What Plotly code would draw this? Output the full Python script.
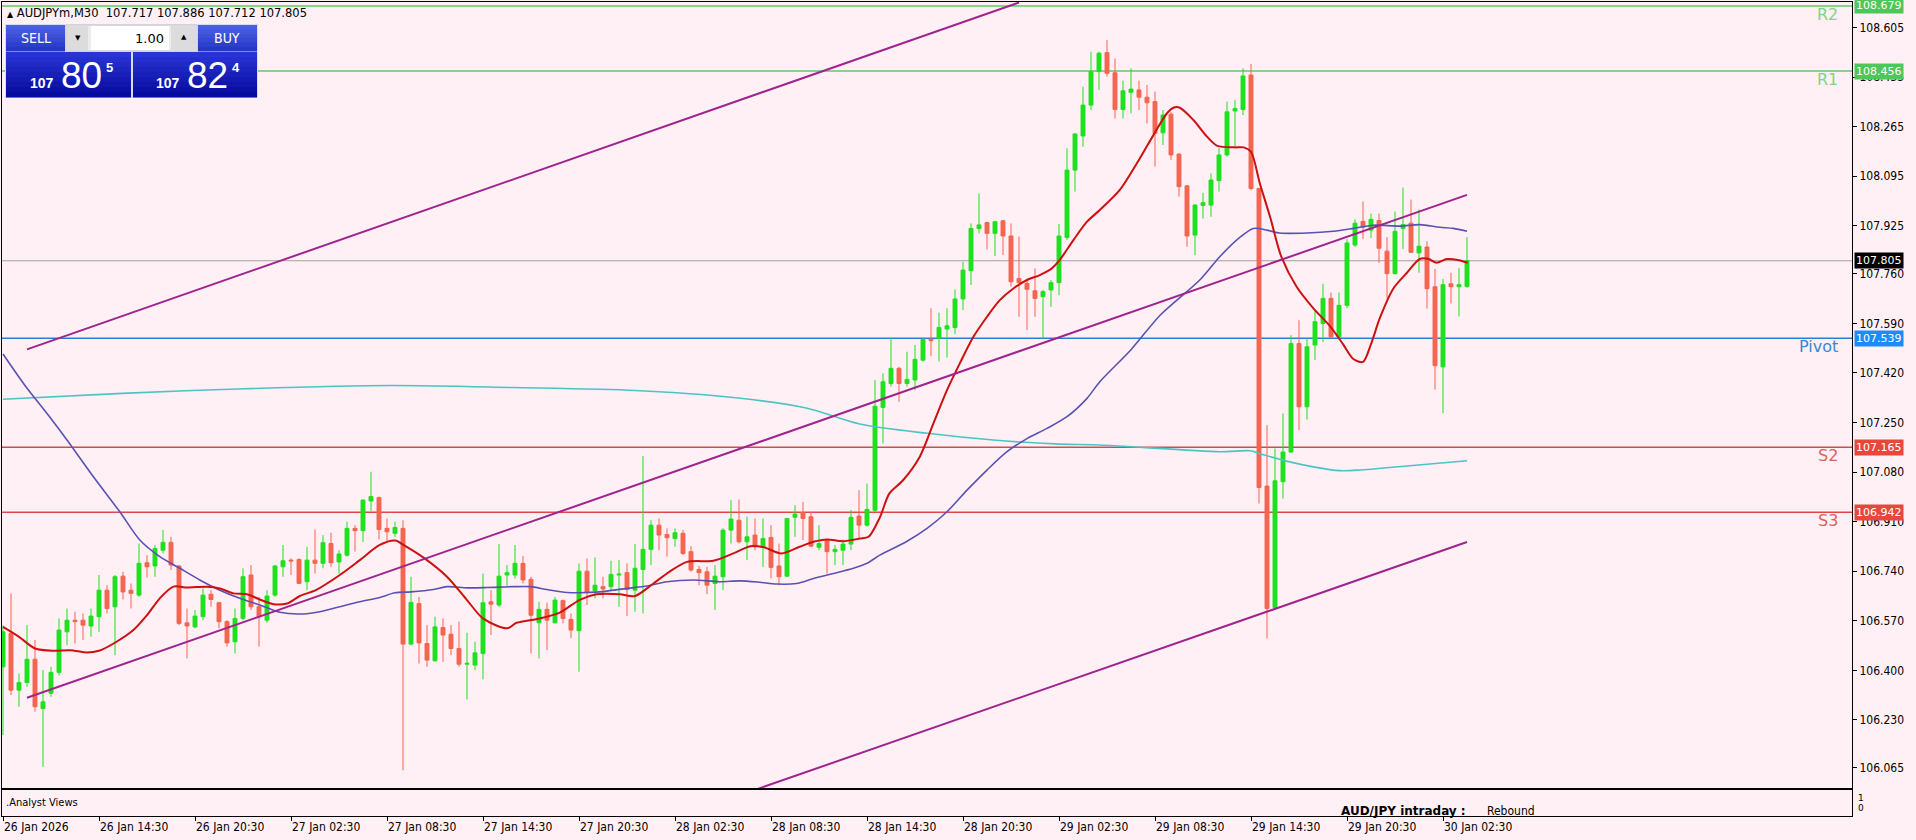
import plotly.graph_objects as go

# ---------------- data ----------------
symbol = "AUDJPYm,M30"
header_ohlc = [107.717, 107.886, 107.712, 107.805]
bid = 107.805
ask = 107.824
lot = "1.00"

open_ = [106.412,106.526,106.332,106.358,106.438,106.269,106.321,106.393,106.532,106.572,
106.572,106.552,106.584,106.675,106.618,106.723,106.675,106.658,106.769,106.758,
106.812,106.839,106.758,106.563,106.549,106.584,106.661,106.632,106.567,106.498,
106.578,106.727,106.618,106.572,106.658,106.755,106.778,106.780,106.704,106.778,
106.767,106.835,106.772,106.795,106.887,106.879,106.981,106.993,106.887,106.870,
106.887,106.490,106.629,106.492,106.433,106.547,106.524,106.475,106.421,106.418,
106.458,106.635,106.624,106.727,106.727,106.767,106.712,106.563,106.609,106.563,
106.639,106.575,106.536,106.740,106.673,106.687,106.687,106.727,106.735,106.675,
106.746,106.815,106.898,106.866,106.852,106.870,106.807,106.746,106.738,106.698,
106.721,106.881,106.915,106.841,106.864,106.822,106.856,106.758,106.723,106.925,
106.941,106.927,106.822,106.845,106.807,106.812,106.833,106.929,106.898,106.949,
107.302,107.384,107.436,107.384,107.396,107.464,107.536,107.539,107.571,107.576,
107.674,107.771,107.916,107.936,107.899,107.942,107.890,107.744,107.727,107.702,
107.682,107.705,107.730,107.885,108.116,108.233,108.339,108.454,108.519,108.450,
108.324,108.383,108.391,108.366,108.351,108.244,108.308,108.171,108.062,107.893,
107.995,107.996,108.080,108.168,108.319,108.324,108.442,108.053,107.032,106.615,
107.047,107.149,107.521,107.304,107.516,107.590,107.676,107.544,107.652,107.859,
107.940,107.910,107.943,107.838,107.761,107.916,107.934,107.832,107.852,107.716,
107.441,107.726,107.716,107.717]

high = [106.555,106.664,106.389,106.555,106.504,106.401,106.412,106.578,106.612,106.601,
106.595,106.612,106.727,106.692,106.727,106.738,106.698,106.835,106.795,106.830,
106.881,106.858,106.761,106.612,106.607,106.681,106.675,106.635,106.572,106.612,
106.750,106.761,106.652,106.675,106.761,106.830,106.784,106.784,106.824,106.883,
106.864,106.872,106.812,106.910,106.898,106.986,107.081,106.996,106.921,106.910,
106.915,106.721,106.652,106.555,106.584,106.578,106.555,106.567,106.529,106.498,
106.732,106.675,106.833,106.761,106.830,106.792,106.721,106.635,106.632,106.652,
106.643,106.595,106.767,106.784,106.787,106.721,106.776,106.778,106.767,106.833,
107.135,106.915,106.921,106.887,106.887,106.881,106.826,106.758,106.755,106.761,
106.887,106.984,106.986,106.927,106.921,106.921,106.898,106.835,106.923,106.967,
106.978,106.944,106.898,106.847,106.830,106.849,106.950,107.018,107.041,107.396,
107.419,107.539,107.441,107.493,107.516,107.539,107.642,107.627,107.642,107.707,
107.802,107.933,108.036,107.939,107.942,107.945,107.933,107.888,107.744,107.779,
107.705,107.739,107.931,108.191,108.242,108.402,108.522,108.522,108.562,108.499,
108.423,108.465,108.423,108.408,108.385,108.322,108.316,108.173,108.065,107.999,
108.038,108.105,108.191,108.351,108.356,108.465,108.480,108.056,107.241,107.161,
107.281,107.550,107.601,107.538,107.636,107.726,107.696,107.696,107.879,107.947,
108.008,107.967,107.967,107.886,107.974,108.056,108.015,107.981,107.872,107.777,
107.743,107.764,107.780,107.886]

low = [106.178,106.315,106.275,106.343,106.258,106.069,106.309,106.383,106.486,106.492,
106.504,106.515,106.532,106.595,106.452,106.643,106.612,106.652,106.719,106.721,
106.801,106.744,106.555,106.441,106.544,106.572,106.618,106.544,106.481,106.458,
106.572,106.607,106.481,106.563,106.652,106.721,106.727,106.696,106.675,106.732,
106.750,106.755,106.732,106.790,106.807,106.841,106.947,106.849,106.841,106.858,
106.057,106.486,106.423,106.412,106.429,106.429,106.452,106.412,106.300,106.401,
106.369,106.521,106.618,106.687,106.715,106.698,106.458,106.441,106.469,106.561,
106.561,106.510,106.395,106.624,106.647,106.647,106.675,106.618,106.586,106.601,
106.595,106.761,106.812,106.790,106.824,106.795,106.738,106.692,106.661,106.607,
106.675,106.835,106.835,106.778,106.812,106.755,106.715,106.692,106.721,106.858,
106.847,106.824,106.812,106.732,106.761,106.761,106.812,106.856,106.893,106.944,
107.178,107.373,107.321,107.373,107.361,107.459,107.478,107.459,107.473,107.553,
107.636,107.722,107.899,107.844,107.821,107.825,107.716,107.613,107.567,107.613,
107.539,107.647,107.687,107.876,108.042,108.196,108.322,108.391,108.437,108.293,
108.293,108.311,108.322,108.276,108.128,108.202,108.151,108.025,107.853,107.824,
107.950,107.956,108.042,108.162,108.196,108.305,108.047,106.972,106.509,106.612,
106.989,107.146,107.224,107.260,107.464,107.526,107.540,107.540,107.642,107.852,
107.879,107.883,107.798,107.676,107.757,107.845,107.832,107.764,107.641,107.363,
107.282,107.658,107.614,107.712]

close = [106.532,106.332,106.358,106.438,106.275,106.292,106.393,106.538,106.572,106.567,
106.555,106.586,106.675,106.612,106.721,106.669,106.664,106.767,106.755,106.818,
106.839,106.761,106.561,106.552,106.586,106.658,106.643,106.567,106.494,106.578,
106.721,106.618,106.584,106.655,106.758,106.776,106.775,106.698,106.778,106.767,
106.838,106.769,106.799,106.887,106.879,106.984,106.996,106.883,106.875,106.890,
106.490,106.633,106.494,106.435,106.549,106.521,106.475,106.421,106.424,106.460,
106.632,106.627,106.723,106.735,106.767,106.710,106.589,106.609,106.572,106.641,
106.578,106.538,106.740,106.669,106.692,106.679,106.729,106.730,106.677,106.750,
106.815,106.898,106.864,106.855,106.872,106.801,106.744,106.735,106.692,106.723,
106.881,106.919,106.841,106.858,106.824,106.852,106.753,106.721,106.921,106.936,
106.921,106.826,106.835,106.807,106.815,106.833,106.925,106.898,106.952,107.306,
107.390,107.436,107.384,107.398,107.467,107.535,107.531,107.576,107.582,107.674,
107.773,107.916,107.928,107.899,107.939,107.890,107.733,107.730,107.707,107.676,
107.699,107.730,107.890,108.116,108.240,108.339,108.454,108.517,108.448,108.324,
108.388,108.394,108.366,108.347,108.242,108.305,108.168,108.059,107.890,107.996,
108.004,108.082,108.168,108.316,108.327,108.439,108.053,107.027,106.612,107.050,
107.149,107.521,107.304,107.510,107.596,107.676,107.544,107.652,107.866,107.934,
107.920,107.947,107.848,107.761,107.906,107.929,107.834,107.855,107.709,107.445,
107.723,107.716,107.723,107.805]

bar_index = list(range(len(close)))

# moving averages (bar position, price)
ma_fast_x = [0,2,4,6.3,8.4,10.5,12,14.2,16.3,18,19.6,21.3,23,25.5,27.1,28.8,30.5,32.1,33.8,35.5,
             37.1,39.1,42.1,44.6,47.1,49,50.3,52.7,55.5,58,60,63,64.2,67.1,69.6,72.1,74.2,77.1,79,
             81.3,83.3,85.5,88.8,91.3,93.4,95.1,97.3,99.6,101.3,103,105,107.1,108.2,109.6,110.8,
             112.5,114.6,116.3,118,119.6,121.3,123,124.6,126.3,128,129.6,131.1,132.1,133.8,135.5,
             137.1,139.6,142.1,143.8,145.5,146.3,147.1,148.8,150.5,151.8,153.9,155.1,156,157.1,
             158.4,159.8,161.7,163.8,165.9,167.5,168.8,170,171,172.1,173.8,175.5,177.1,178.2,
             179.2,180.5,182,183.1]
ma_fast_y = [106.549,106.515,106.475,106.467,106.469,106.461,106.467,106.498,106.538,106.589,106.647,
             106.687,106.684,106.687,106.681,106.664,106.661,106.643,106.627,106.629,106.655,106.675,
             106.727,106.778,106.830,106.845,106.826,106.784,106.721,106.641,106.578,106.544,106.563,
             106.578,106.598,106.642,106.661,106.661,106.655,106.698,106.738,106.772,106.776,106.801,
             106.826,106.822,106.801,106.824,106.841,106.849,106.843,106.852,106.858,106.924,107.007,
             107.052,107.133,107.247,107.361,107.453,107.544,107.613,107.670,107.710,107.739,107.756,
             107.779,107.808,107.876,107.939,107.979,108.048,108.156,108.236,108.311,108.330,108.330,
             108.288,108.231,108.199,108.194,108.194,108.179,108.071,107.954,107.818,107.716,107.642,
             107.580,107.519,107.468,107.458,107.519,107.608,107.710,107.764,107.811,107.811,107.798,
             107.811,107.807,107.798]

ma_mid_x = [0,2.7,5.7,8,11.3,14.6,17.1,19.6,22.1,24.6,27.1,29.6,32.1,34.6,37.1,39.6,42.1,44.6,47.1,
            49,51,53.8,55.5,58,60.5,63.8,65.9,68,70.5,72.1,74.6,78,80.5,83,86.3,89.6,92.1,94.6,96.7,
            99.2,101.3,103.8,106.3,108,109.6,112.9,115.5,118,120.5,123,125.5,128,130.5,133,135.5,
            137.1,141,144.7,149.6,152.1,154.6,156.3,158,159.6,163,166.3,168.8,171.3,174.6,177.1,
            179.6,181.3,183]
ma_mid_y = [107.485,107.379,107.274,107.190,107.064,106.944,106.847,106.790,106.750,106.710,106.675,
            106.647,106.624,106.599,106.593,106.601,106.618,106.635,106.650,106.666,106.669,106.677,
            106.687,106.683,106.684,106.687,106.687,106.677,106.667,106.666,106.669,106.681,106.689,
            106.704,106.710,106.704,106.707,106.702,106.696,106.698,106.715,106.732,106.750,106.767,
            106.795,106.841,106.887,106.944,107.018,107.087,107.150,107.195,107.230,107.270,107.333,
            107.390,107.500,107.620,107.739,107.819,107.885,107.916,107.910,107.900,107.900,107.906,
            107.916,107.927,107.924,107.929,107.920,107.916,107.906]

ma_slow_x = [0,14.9,30.2,48.5,63.8,79,91.3,100.4,107.1,115.5,123.8,132.1,137.1,152.1,155.9,157.1,
             160.7,163.8,167.1,169.6,175.5,183]
ma_slow_y = [107.330,107.350,107.366,107.377,107.370,107.360,107.336,107.300,107.245,107.213,107.190,
             107.176,107.173,107.150,107.153,107.143,107.116,107.098,107.085,107.087,107.101,107.119]

# channel trend lines (bar position, price)
chan_upper_x, chan_upper_y = [3, 127], [107.501, 108.691]
chan_mid_x, chan_mid_y = [3, 183], [106.306, 108.031]
chan_low_x, chan_low_y = [94, 183], [105.990, 106.840]

# pivot levels
level_names = ["R2", "R1", "Pivot", "S2", "S3"]
level_values = [108.679, 108.456, 107.539, 107.165, 106.942]

price_ticks = [108.605, 108.435, 108.265, 108.095, 107.925, 107.760, 107.590, 107.420,
               107.250, 107.080, 106.910, 106.740, 106.570, 106.400, 106.230, 106.065]
time_tick_index = [0, 12, 24, 36, 48, 60, 72, 84, 96, 108, 120, 132, 144, 156, 168, 180]
time_tick_labels = ["26 Jan 2026", "26 Jan 14:30", "26 Jan 20:30", "27 Jan 02:30", "27 Jan 08:30",
                    "27 Jan 14:30", "27 Jan 20:30", "28 Jan 02:30", "28 Jan 08:30", "28 Jan 14:30",
                    "28 Jan 20:30", "29 Jan 02:30", "29 Jan 08:30", "29 Jan 14:30", "29 Jan 20:30",
                    "30 Jan 02:30"]

panel_title = ".Analyst Views"
view_label = "AUD/JPY intraday :"
view_value = "Rebound"

# ---------------- styling ----------------
BG = "#FFF0F5"
BULL = "#1EE01E"
BEAR = "#F2654F"
COND = "DejaVu Sans Condensed, Liberation Sans Narrow, DejaVu Sans"
level_line_colors = ["#62C962", "#62C962", "#2A7FD4", "#C9504C", "#E04848"]
level_text_colors = ["#84D284", "#84D284", "#3A86D0", "#D8625E", "#D8625E"]
level_badge_colors = ["#4DC65A", "#4DC65A", "#1A8CFF", "#E8473D", "#E8473D"]

W, H = 1916, 840
ML, MR, MT, MB = 2, 64, 2, 24
PW, PH = W - ML - MR, H - MT - MB


def fx(px):
    return (px - ML) / PW


def fy(py):
    return 1 - (py - MT) / PH


fig = go.Figure()

fig.add_trace(go.Candlestick(
    x=bar_index, open=open_, high=high, low=low, close=close,
    increasing=dict(line=dict(color=BULL, width=1), fillcolor=BULL),
    decreasing=dict(line=dict(color=BEAR, width=1), fillcolor=BEAR),
    showlegend=False, hoverinfo="skip", xaxis="x", yaxis="y"))

fig.add_trace(go.Scatter(x=ma_slow_x, y=ma_slow_y, mode="lines",
                         line=dict(color="#4CC4C4", width=1.6, shape="spline", smoothing=0.8),
                         hoverinfo="skip", showlegend=False))
fig.add_trace(go.Scatter(x=ma_mid_x, y=ma_mid_y, mode="lines",
                         line=dict(color="#5A52B2", width=1.6, shape="spline", smoothing=0.8),
                         hoverinfo="skip", showlegend=False))
fig.add_trace(go.Scatter(x=ma_fast_x, y=ma_fast_y, mode="lines",
                         line=dict(color="#CC1111", width=2, shape="spline", smoothing=0.8),
                         hoverinfo="skip", showlegend=False))
for cx, cy in [(chan_upper_x, chan_upper_y), (chan_mid_x, chan_mid_y), (chan_low_x, chan_low_y)]:
    fig.add_trace(go.Scatter(x=cx, y=cy, mode="lines", line=dict(color="#A0248F", width=2),
                             hoverinfo="skip", showlegend=False))

# dummy trace for the lower panel
fig.add_trace(go.Scatter(x=[0], y=[0.5], mode="markers", marker=dict(opacity=0),
                         xaxis="x2", yaxis="y2", hoverinfo="skip", showlegend=False))

shapes = []
annotations = []


def note(x, y, text, size, color="black", family="DejaVu Sans", xa="center", ya="middle",
         weight="normal", **kw):
    annotations.append(dict(xref="paper", yref="paper", x=fx(x), y=fy(y), xanchor=xa, yanchor=ya,
                            text=text, showarrow=False,
                            font=dict(family=family, size=size, color=color, weight=weight), **kw))


for name, val, lc, tc, bc in zip(level_names, level_values, level_line_colors,
                                 level_text_colors, level_badge_colors):
    shapes.append(dict(type="line", xref="paper", x0=0, x1=1, yref="y", y0=val, y1=val,
                       line=dict(color=lc, width=1.5), layer="below"))
    annotations.append(dict(xref="paper", x=fx(1840), xanchor="right", yref="y", y=val,
                            yanchor="top", yshift=3, text=name, showarrow=False,
                            font=dict(family="DejaVu Sans", size=16, color=tc)))
    annotations.append(dict(xref="paper", x=fx(1854), xanchor="left", yref="y", y=val,
                            yanchor="middle", text=f"{val:.3f}", showarrow=False, bgcolor=bc,
                            borderpad=1, font=dict(family="DejaVu Sans", size=11, color="white")))

# current price line and badge
shapes.append(dict(type="line", xref="paper", x0=0, x1=1, yref="y", y0=header_ohlc[3], y1=header_ohlc[3],
                   line=dict(color="#A0A0A0", width=1), layer="below"))
annotations.append(dict(xref="paper", x=fx(1854), xanchor="left", yref="y", y=header_ohlc[3],
                        yanchor="middle", text=f"{header_ohlc[3]:.3f}", showarrow=False, bgcolor="black",
                        borderpad=1, font=dict(family="DejaVu Sans", size=11, color="white")))

# header
hdr = ("<span style='font-size:8px'>▲</span>\u00a0" + symbol + "\u00a0\u00a0"
       + " ".join(f"{v:.3f}" for v in header_ohlc))
note(5, 13, hdr, 11.5, xa="left")


# one-click trading panel
def rect(x0, y0, x1, y1, fill, lw=0, lcol="rgba(0,0,0,0)"):
    shapes.append(dict(type="rect", xref="paper", yref="paper", x0=fx(x0), x1=fx(x1),
                       y0=fy(y1), y1=fy(y0), fillcolor=fill, line=dict(width=lw, color=lcol),
                       layer="above"))


def grad(x0, y0, x1, y1, c0, c1, n=9):
    h = (y1 - y0) / n
    for k in range(n):
        t = k / (n - 1)
        c = tuple(int(round(c0[j] + (c1[j] - c0[j]) * t)) for j in range(3))
        rect(x0, y0 + k * h, x1, y0 + (k + 1) * h + 0.6, "rgb(%d,%d,%d)" % c)


rect(5, 24, 258, 98, "#D8DCF0")
grad(6, 25, 65, 51, (74, 96, 226), (38, 56, 200), 6)
grad(198, 25, 257, 51, (74, 96, 226), (38, 56, 200), 6)
rect(66, 25, 197, 51, "#ECECEC", 1, "#C8C8C8")
rect(67, 26, 88, 50, "#DCDCDC")
rect(91, 26, 169, 50, "#FFFFFF")
rect(171, 26, 196, 50, "#DCDCDC")
grad(6, 52, 131, 97, (40, 52, 212), (8, 12, 158), 9)
grad(133, 52, 257, 97, (40, 52, 212), (8, 12, 158), 9)

note(36, 38, "SELL", 14, "white", COND)
note(227, 38, "BUY", 14, "white", COND)
note(166, 38, lot, 13, xa="right")
note(78, 38, "▼", 7)
note(184, 37, "▲", 7)

for price, cx_small, cx_big, cx_sup in [(bid, 42, 81, 109), (ask, 168, 207, 236)]:
    s = f"{price:.3f}"
    big_fig, small_fig, sup_fig = s[:3], s[4:6], s[6]
    note(cx_small, 83, big_fig, 14, "white", "Liberation Sans", weight="bold")
    note(cx_big, 75, small_fig, 37, "white", "Liberation Sans")
    note(cx_sup, 67, sup_fig, 13, "white", "Liberation Sans", weight="bold")

# lower panel texts
note(4, 802, panel_title, 11, family=COND, xa="left")
note(1339, 811, "<b>" + view_label + "</b>", 12, xa="left")
note(1537, 811, view_value, 12, family=COND, xa="right")
note(1856, 798, "1", 9, xa="left")
note(1856, 808, "0", 9, xa="left")

main_bottom = (H - MB - 788) / PH
sub_top = (H - MB - 790) / PH
x_lo = -(3 - ML) / 8.0
x_hi = x_lo + PW / 8.0

fig.update_layout(
    width=W, height=H, margin=dict(l=ML, r=MR, t=MT, b=MB),
    paper_bgcolor=BG, plot_bgcolor=BG, showlegend=False,
    shapes=shapes, annotations=annotations,
    xaxis=dict(domain=[0, 1], range=[x_lo, x_hi], anchor="y", showticklabels=False, ticks="",
               showline=True, linecolor="black", linewidth=1, mirror=True, showgrid=False,
               zeroline=False, rangeslider=dict(visible=False)),
    yaxis=dict(domain=[main_bottom, 1], range=[105.9963, 108.6927], side="right", anchor="x",
               tickvals=price_ticks, tickformat=".3f", ticks="outside", ticklen=4, tickcolor="black",
               showline=True, linecolor="black", linewidth=1, mirror=True, showgrid=False,
               zeroline=False, tickfont=dict(family=COND, size=12, color="black")),
    xaxis2=dict(domain=[0, 1], matches="x", anchor="y2", tickvals=time_tick_index,
                ticktext=time_tick_labels, ticks="outside", ticklen=4, tickcolor="black",
                ticklabelposition="outside right", showline=True, linecolor="black", linewidth=1,
                mirror=True, showgrid=False, zeroline=False,
                tickfont=dict(family=COND, size=12, color="black")),
    yaxis2=dict(domain=[0, sub_top], range=[0, 1], anchor="x2", showticklabels=False, ticks="",
                showline=True, linecolor="black", linewidth=1, mirror=True, showgrid=False,
                zeroline=False),
)

fig.write_html("out.html", config={"displayModeBar": False},
               post_script="document.body.style.margin='0';document.body.style.overflow='hidden';")
